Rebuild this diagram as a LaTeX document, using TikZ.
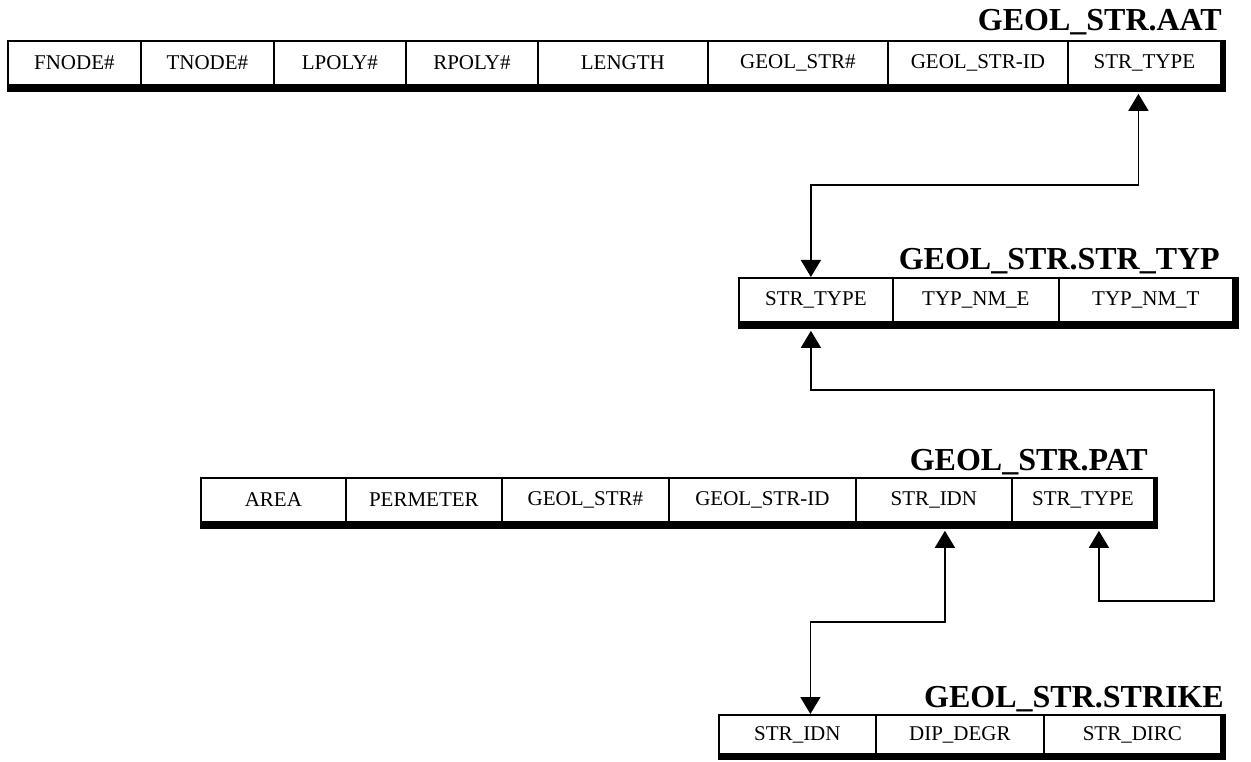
\documentclass[tikz,border=0pt]{standalone}
\usepackage{fontspec}
\setmainfont{Liberation Serif}
\usetikzlibrary{arrows.meta}

\tikzset{
  cell/.style={draw, fill=white, line width=1.8pt, inner sep=0pt, anchor=north west,
    minimum height=44pt, font=\fontsize{21}{25}\selectfont},
  tabtitle/.style={anchor=base east, inner sep=0pt, font=\fontsize{32}{36}\selectfont\bfseries},
  link/.style={line width=1.5pt, {Triangle[length=17pt,width=20pt]}-{Triangle[length=17pt,width=20pt]}},
}

\begin{document}
\begin{tikzpicture}[x=1pt,y=-1pt]
  \useasboundingbox (0,0) rectangle (1251,762);

  % Table GEOL_STR.AAT
  \node[tabtitle] (aat) at (1222,31) {GEOL\_STR.AAT};
  \fill (7,40) rectangle (1226,92);
  \foreach \n/\txt/\xa/\xb in {1/FNODE\#/7/140, 2/TNODE\#/140/273, 3/LPOLY\#/273/405,
      4/RPOLY\#/405/537, 5/LENGTH/537/707, 6/GEOL\_STR\#/707/887,
      7/GEOL\_STR-ID/887/1067, 8/STR\_TYPE/1067/1220}
    \node[cell, minimum width={(\xb-\xa)*1pt}] (aat\n) at (\xa,40) {\txt};

  % Table GEOL_STR.STR_TYP
  \node[tabtitle] (typ) at (1220,270) {GEOL\_STR.STR\_TYP};
  \fill (738,277) rectangle (1239,329);
  \foreach \n/\txt/\xa/\xb in {1/STR\_TYPE/738/892, 2/TYP\_NM\_E/892/1058, 3/TYP\_NM\_T/1058/1232}
    \node[cell, minimum width={(\xb-\xa)*1pt}] (typ\n) at (\xa,277) {\txt};

  % Table GEOL_STR.PAT
  \node[tabtitle] (pat) at (1148,470) {GEOL\_STR.PAT};
  \fill (200,477) rectangle (1158,529);
  \foreach \n/\txt/\xa/\xb in {1/AREA/200/345, 2/PERMETER/345/501, 3/GEOL\_STR\#/501/668,
      4/GEOL\_STR-ID/668/855, 5/STR\_IDN/855/1011, 6/STR\_TYPE/1011/1153}
    \node[cell, minimum width={(\xb-\xa)*1pt}] (pat\n) at (\xa,477) {\txt};

  % Table GEOL_STR.STRIKE
  \node[tabtitle] (stk) at (1224,707) {GEOL\_STR.STRIKE};
  \fill (718,714) rectangle (1226,760);
  \foreach \n/\txt/\xa/\xb in {1/STR\_IDN/718/875, 2/DIP\_DEGR/875/1043, 3/STR\_DIRC/1043/1220}
    \node[cell, minimum width={(\xb-\xa)*1pt}, minimum height=39pt] (stk\n) at (\xa,714) {\txt};

  % Links between the tables
  \coordinate (loop) at (1214,601);
  \draw[link] ([xshift=-6pt,yshift=-8pt]aat8.south) -- ++(0,91) -| ([xshift=-5pt]typ1.north);
  \draw[link] ([xshift=-5pt,yshift=-8pt]typ1.south) -- ++(0,59) -| (loop)
    -| ([xshift=16pt,yshift=-8pt]pat6.south);
  \draw[link] ([xshift=11pt,yshift=-8pt]pat5.south) -- ++(0,91) -| ([xshift=13pt]stk1.north);
\end{tikzpicture}
\end{document}
